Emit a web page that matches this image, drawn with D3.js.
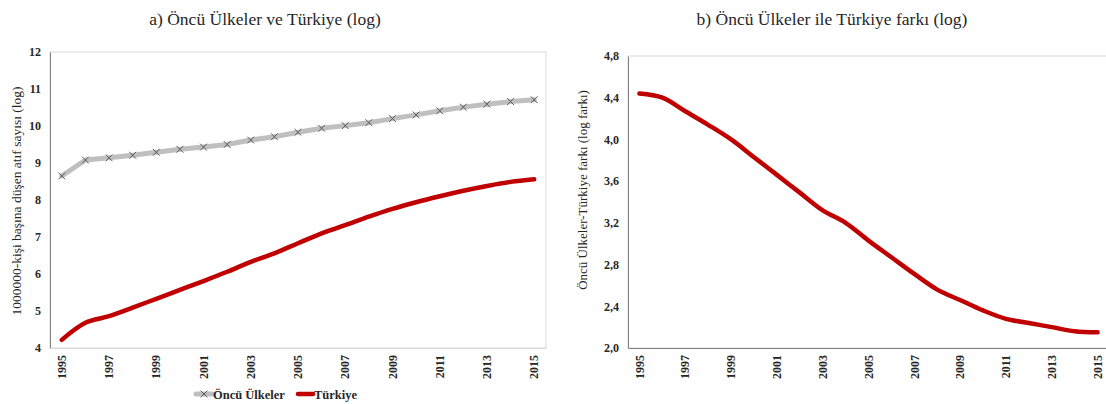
<!DOCTYPE html>
<html>
<head>
<meta charset="utf-8">
<script src="https://cdn.jsdelivr.net/npm/d3@7"></script>
<style>
  body { margin: 0; background: #fff; }
  svg { display: block; }
  text { font-family: "Liberation Serif", "DejaVu Serif", serif; fill: #262626; }
  .tick text { font-weight: bold; }
</style>
</head>
<body>
<div id="canvas"></div>
<script>
// data
var years = d3.range(1995, 2016);
var oncu = [8.65, 9.08, 9.14, 9.21, 9.29, 9.37, 9.43, 9.50, 9.62, 9.71,
            9.83, 9.94, 10.01, 10.09, 10.20, 10.30, 10.41, 10.51, 10.59, 10.66, 10.71];
var turkiye = [4.22, 4.68, 4.86, 5.09, 5.33, 5.57, 5.81, 6.06, 6.33, 6.56,
               6.83, 7.10, 7.32, 7.55, 7.76, 7.94, 8.10, 8.25, 8.38, 8.49, 8.56];
var fark = [4.44, 4.40, 4.27, 4.14, 4.00, 3.83, 3.66, 3.49, 3.32, 3.20,
            3.03, 2.87, 2.71, 2.56, 2.46, 2.36, 2.28, 2.24, 2.20, 2.16, 2.15];
var yTicksA = [4, 5, 6, 7, 8, 9, 10, 11, 12];
var yTicksB = [2.0, 2.4, 2.8, 3.2, 3.6, 4.0, 4.4, 4.8];

var W = 1106, H = 404;
var svg = d3.select('#canvas').append('svg').attr('width', W).attr('height', H);

function panel(o) {
  var g = svg.append('g').attr('transform', 'translate(' + o.l + ',' + o.t + ')');
  var x = d3.scaleBand().domain(years).range([0, o.w]);
  var y = d3.scaleLinear().domain(o.domain).range([o.h, 0]);

  // plot border
  g.append('rect').attr('width', o.w).attr('height', o.h)
    .attr('fill', 'none').attr('stroke', '#d9d9d9');

  var ax = d3.axisLeft(y).tickValues(o.ticks).tickSize(0).tickPadding(9)
    .tickFormat(o.fmt);
  var gy = g.append('g').call(ax);
  gy.select('.domain').attr('stroke', '#808080');
  gy.selectAll('text').style('font-size', '12px');

  var axb = d3.axisBottom(x).tickSize(0).tickPadding(0)
    .tickFormat(function(d) { return (d - 1995) % 2 == 0 ? d : ''; });
  var gx = g.append('g').attr('transform', 'translate(0,' + o.h + ')').call(axb);
  gx.select('.domain').attr('stroke', o.bottomColor);
  gx.selectAll('text')
    .style('font-size', '12px')
    .attr('text-anchor', 'end')
    .attr('dy', '0.35em')
    .attr('transform', 'translate(0,7) rotate(-90)')
    .attr('x', 0).attr('y', 0);

  // y title
  svg.append('text')
    .attr('transform', 'translate(' + o.ytx + ',' + o.yty + ') rotate(-90)')
    .attr('text-anchor', 'middle')
    .style('font-size', o.ytSize)
    .text(o.ytitle);

  // title
  svg.append('text')
    .attr('x', o.tx).attr('y', 25)
    .attr('text-anchor', 'middle')
    .style('font-size', '17.5px')
    .text(o.title);

  return {g: g, x: x, y: y};
}

var A = panel({l: 50, t: 52, w: 496, h: 296, domain: [4, 12], ticks: yTicksA,
  fmt: d3.format('d'), bottomColor: '#d9d9d9', ytx: 21, yty: 201, ytSize: '13.5px',
  ytitle: '1000000-kişi başına düşen atıf sayısı (log)',
  tx: 265, title: 'a) Öncü Ülkeler ve Türkiye (log)'});

var B = panel({l: 628, t: 56, w: 481, h: 292, domain: [2.0, 4.8], ticks: yTicksB,
  fmt: function(d) { return d3.format('.1f')(d).replace('.', ','); },
  bottomColor: '#808080', ytx: 587, yty: 190, ytSize: '13px',
  ytitle: 'Öncü Ülkeler-Türkiye farkı (log farkı)',
  tx: 832, title: 'b) Öncü Ülkeler ile Türkiye farkı (log)'});

function lineFor(p, vals, curve) {
  return d3.line()
    .x(function(d, i) { return p.x(years[i]) + p.x.bandwidth() / 2; })
    .y(function(d) { return p.y(d); })
    .curve(curve)(vals);
}

// panel a
A.g.append('path').attr('d', lineFor(A, oncu, d3.curveLinear))
  .attr('fill', 'none').attr('stroke', '#bfbfbf').attr('stroke-width', 5)
  .attr('stroke-linejoin', 'round').attr('stroke-linecap', 'round');
var sym = d3.symbol().type(d3.symbolX).size(32);
A.g.selectAll('.mk').data(oncu).enter().append('path')
  .attr('d', sym)
  .attr('transform', function(d, i) {
    return 'translate(' + (A.x(years[i]) + A.x.bandwidth() / 2) + ',' + A.y(d) + ')';
  })
  .attr('fill', 'none').attr('stroke', '#595959').attr('stroke-width', 1);
A.g.append('path').attr('d', lineFor(A, turkiye, d3.curveCatmullRom))
  .attr('fill', 'none').attr('stroke', '#c00000').attr('stroke-width', 4.5)
  .attr('stroke-linecap', 'round');

// panel b
B.g.append('path').attr('d', lineFor(B, fark, d3.curveCatmullRom))
  .attr('fill', 'none').attr('stroke', '#c00000').attr('stroke-width', 4.5)
  .attr('stroke-linecap', 'round');

// legend
var legend = svg.append('g').attr('transform', 'translate(0,394)');
legend.append('line').attr('x1', 196).attr('x2', 212)
  .attr('stroke', '#bfbfbf').attr('stroke-width', 5).attr('stroke-linecap', 'round');
legend.append('path').attr('d', sym).attr('transform', 'translate(204,0)')
  .attr('fill', 'none').attr('stroke', '#595959');
legend.append('text').attr('x', 213).attr('y', 4.5)
  .style('font-size', '12.5px').style('font-weight', 'bold').text('Öncü Ülkeler');
legend.append('line').attr('x1', 298).attr('x2', 313)
  .attr('stroke', '#c00000').attr('stroke-width', 4.5).attr('stroke-linecap', 'round');
legend.append('text').attr('x', 314).attr('y', 4.5)
  .style('font-size', '12.5px').style('font-weight', 'bold').text('Türkiye');
</script>
</body>
</html>
